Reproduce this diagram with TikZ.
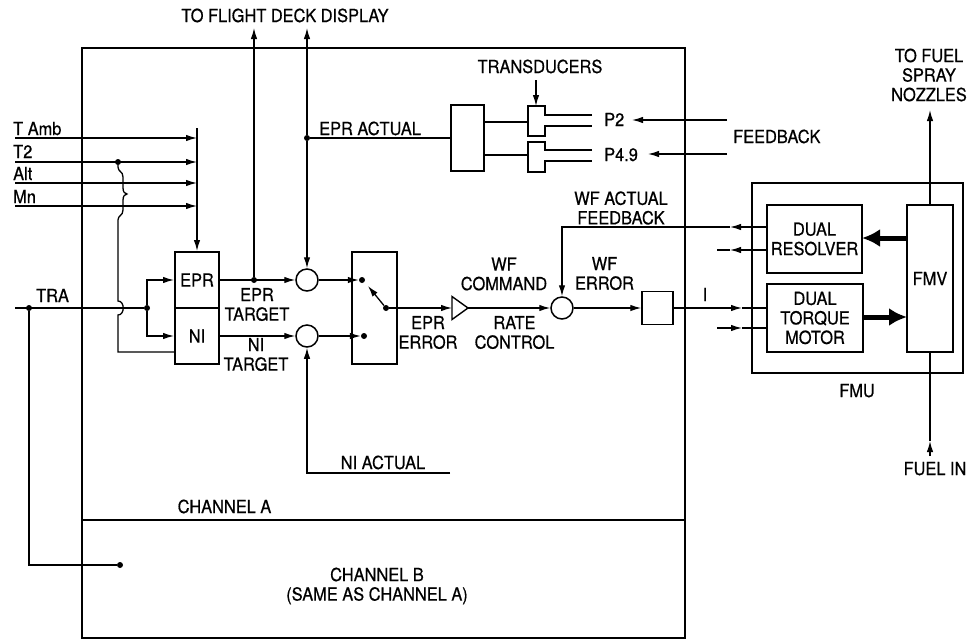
\documentclass[tikz,border=0pt]{standalone}
\usepackage{fontspec}
\setmainfont{TeX Gyre Heros}[FakeBold=0.6,FakeStretch=0.91]
\usetikzlibrary{arrows.meta,calc}
\newcommand{\lblfont}{\fontsize{18}{19.5}\selectfont}
\begin{document}
\begin{tikzpicture}[x=1pt,y=-1pt,
  ln/.style={line width=1.3pt},
  arr/.style={line width=1.3pt,-{Latex[length=11pt,width=6.5pt]}},
  bx/.style={draw,line width=2pt,inner sep=0pt,align=center,font=\lblfont},
  tbx/.style={draw,line width=1.4pt,inner sep=0pt},
  sumc/.style={draw,circle,line width=1.5pt,minimum size=22pt,inner sep=0pt},
  jdot/.style={circle,fill,inner sep=0pt,minimum size=6pt},
  lbl/.style={inner sep=0pt,align=center,font=\lblfont},
  fatarr/.style={line width=5pt,-{Latex[length=18pt,width=18pt]}}
]
\fill[white] (0,0) rectangle (968,641);
\useasboundingbox (0,0) rectangle (968,641);

% ---------- channel box ----------
\node[draw,line width=1.6pt,minimum width=603pt,minimum height=590pt,inner sep=0pt] (chan) at (383.5,343) {};
\coordinate (divl) at (82,520);
\coordinate (divr) at (685,520);
\draw[line width=1.6pt] (divl) -- (divr);

% ---------- blocks ----------
\node[bx,minimum width=44pt,minimum height=56pt] (epr) at (197,280) {EPR};
\node[bx,minimum width=44pt,minimum height=56pt] (ni) at (197,336) {NI};
\node[sumc] (s1) at (307,280) {};
\node[sumc] (s2) at (307,336) {};
\node[bx,minimum width=45pt,minimum height=112pt] (sw) at (374.5,308) {};
\node[jdot] (sa) at (362,280) {};
\node[jdot] (sb) at (364,336) {};
\node[jdot] (sc) at (386,308) {};
\coordinate (armtip) at (368,286);
\coordinate (ampin) at (452,308);
\coordinate (ampout) at (468,308);
\draw[line width=1.4pt] (452,296.5) -- (ampout) -- (452,319.5) -- cycle;
\node[sumc] (s3) at (562,308) {};
\node[tbx,minimum width=31pt,minimum height=33pt] (ib) at (657.5,308) {};
\node[tbx,minimum width=33pt,minimum height=66pt] (tb) at (467.5,138) {};

% transducers
\draw[line width=1.4pt] (592,115) -- (545,115) -- (545,106) -- (528,106) -- (528,136) -- (545,136) -- (545,126) -- (592,126);
\draw[line width=1.4pt] (592,150) -- (545,150) -- (545,142) -- (528,142) -- (528,172) -- (545,172) -- (545,161) -- (592,161);
\coordinate (t1in) at (528,122);
\coordinate (t2in) at (528,155);
\coordinate (trtop) at (536,80);
\coordinate (trbot) at (536,106);

% FMU
\node[draw,line width=1.4pt,minimum width=211pt,minimum height=190pt,inner sep=0pt] (fmu) at (857.5,278) {};
\node[bx,minimum width=95pt,minimum height=68pt] (res) at (814.5,239) {DUAL\\RESOLVER};
\node[bx,minimum width=96pt,minimum height=68pt] (tm) at (815,318) {DUAL\\TORQUE\\MOTOR};
\node[bx,minimum width=46pt,minimum height=147pt] (fmv) at (930,278.5) {FMV};

% ---------- inputs ----------
\coordinate (in1) at (15,138);
\coordinate (in2) at (15,162);
\coordinate (in3) at (15,183);
\coordinate (in4) at (15,206);
\coordinate (bartop) at (197,128);
\draw[arr] (in1) -- (in1 -| epr.north);
\draw[arr] (in2) -- (in2 -| epr.north);
\draw[arr] (in3) -- (in3 -| epr.north);
\draw[arr] (in4) -- (in4 -| epr.north);
\draw[arr] (bartop) -- (epr.north);
\node[jdot] (t2dot) at (118,162) {};
\coordinate (nib) at (175,352);
\draw[ln] (t2dot) -- (118,167)
  .. controls (118,172) and (123,171) .. (123,177) -- (123,188)
  .. controls (123,192) and (125,194) .. (127,194)
  .. controls (125,194) and (123,196) .. (123,200) -- (123,210)
  .. controls (123,216) and (118,215) .. (118,220)
  -- (118,301) .. controls (125,301) and (125,315) .. (118,315)
  -- (118,352) -- (nib);

% TRA
\coordinate (trastart) at (15,308);
\node[jdot] (tradot) at (29,308) {};
\node[jdot] (tra2) at (147,308) {};
\node[jdot] (chb) at (120,565) {};
\draw[ln] (trastart) -- (tra2);
\draw[arr] (tra2) |- (epr.west);
\draw[arr] (tra2) |- (ni.west);
\draw[ln] (tradot) |- (chb);

% ---------- EPR / NI paths ----------
\node[jdot] (d1) at (254,280) {};
\node[jdot] (d2) at (307,138) {};
\coordinate (fd1) at (254,28);
\coordinate (fd2) at (307,28);
\draw[arr] (epr.east) -- (s1.west);
\draw[arr] (ni.east) -- (s2.west);
\draw[arr] (d1) -- (fd1);
\draw[arr] (d2) -- (fd2);
\draw[arr] (d2) -- (s1.north);
\draw[ln] (d2) -- (tb.west |- d2);
\draw[ln] (tb.east |- t1in) -- (t1in);
\draw[ln] (tb.east |- t2in) -- (t2in);
\draw[arr] (trtop) -- (trbot);
\coordinate (niae) at (450,473);
\coordinate (niac) at (307,473);
\draw[arr] (niae) -- (niac) -- (s2.south);

\draw[arr] (s1.east) -- (sa.west);
\draw[arr] (s2.east) -- (sb.west);
\draw[arr] (sc) -- (armtip);
\draw[arr] (sc) -- (ampin);
\draw[arr] (ampout) -- (s3.west);
\draw[arr] (s3.east) -- (ib.west);

% feedback pressures
\coordinate (p2s) at (727,120);
\coordinate (p2e) at (632,120);
\coordinate (p49s) at (727,154);
\coordinate (p49e) at (648,154);
\draw[arr] (p2s) -- (p2e);
\draw[arr] (p49s) -- (p49e);

% WF actual feedback
\coordinate (r1) at (767,227);
\coordinate (r1m) at (730,227);
\coordinate (fbc) at (562,227);
\coordinate (r2) at (767,250);
\coordinate (r2m) at (730,250);
\coordinate (r2e) at (717,250);
\draw[arr] (r1) -- (r1m);
\draw[arr] (r1m) -- (fbc) -- (s3.north);
\draw[arr] (r2) -- (r2m);
\draw[ln] (r2m) -- (r2e);

% torque motor inputs
\coordinate (im) at (742,308);
\coordinate (ie) at (767,308);
\coordinate (q2s) at (717,328);
\coordinate (q2m) at (742,328);
\coordinate (q2e) at (767,328);
\draw[arr] (ib.east) -- (im);
\draw[ln] (im) -- (ie);
\draw[arr] (q2s) -- (q2m);
\draw[ln] (q2m) -- (q2e);

% fat arrows
\coordinate (fa1s) at (907,238);
\coordinate (fa1e) at (862,238);
\coordinate (fa2s) at (863,317);
\coordinate (fa2e) at (907,317);
\draw[fatarr] (fa1s) -- (fa1e);
\draw[fatarr] (fa2s) -- (fa2e);

% fuel
\coordinate (nozz) at (930,110);
\coordinate (fuelin) at (930,456);
\coordinate (fuelarr) at (930,441);
\draw[arr] (fmv.north) -- (nozz);
\draw[arr] (fuelin) -- (fuelarr);
\draw[ln] (fuelarr) -- (fmv.south);

% ---------- labels ----------
\node[lbl,anchor=base] (lfd) at (285,22) {TO FLIGHT DECK DISPLAY};
\node[lbl,anchor=base west] (lamb) at (13,135) {T Amb};
\node[lbl,anchor=base west] (lt2) at (13,158) {T2};
\node[lbl,anchor=base west] (lalt) at (13,180) {Alt};
\node[lbl,anchor=base west] (lmn) at (13,203) {Mn};
\node[lbl,anchor=base west] (ltra) at (36,302) {TRA};
\node[lbl,anchor=base west] (lepra) at (319,135) {EPR ACTUAL};
\node[lbl,anchor=base] (ltrans) at (540,73) {TRANSDUCERS};
\node[lbl,anchor=base west] (lp2) at (604,126) {P2};
\node[lbl,anchor=base west] (lp49) at (604,161) {P4.9};
\node[lbl,anchor=base west] (lfb) at (733,143) {FEEDBACK};
\node[lbl] (lnoz) at (929,75) {TO FUEL\\SPRAY\\NOZZLES};
\node[lbl] (lwfa) at (621,208) {WF ACTUAL\\FEEDBACK};
\node[lbl] (lwfe) at (604.5,273.5) {WF\\ERROR};
\node[lbl] (lwfc) at (504,274) {WF\\COMMAND};
\node[lbl] (lrate) at (514.5,332.5) {RATE\\CONTROL};
\node[lbl] (leprerr) at (428,332.5) {EPR\\ERROR};
\node[lbl] (leprt) at (257,304.5) {EPR\\TARGET};
\node[lbl] (lnit) at (256,354.5) {NI\\TARGET};
\node[lbl,anchor=base] (lnia) at (383,469) {NI ACTUAL};
\node[lbl,anchor=base] (lcha) at (224.5,513) {CHANNEL A};
\node[lbl] (lchb) at (377,586) {CHANNEL B\\(SAME AS CHANNEL A)};
\node[lbl,anchor=base] (lfmu) at (857,397) {FMU};
\node[lbl,anchor=base] (lfuel) at (935,475) {FUEL IN};
\node[lbl,anchor=base] (li) at (705,301) {I};
\end{tikzpicture}
\end{document}
